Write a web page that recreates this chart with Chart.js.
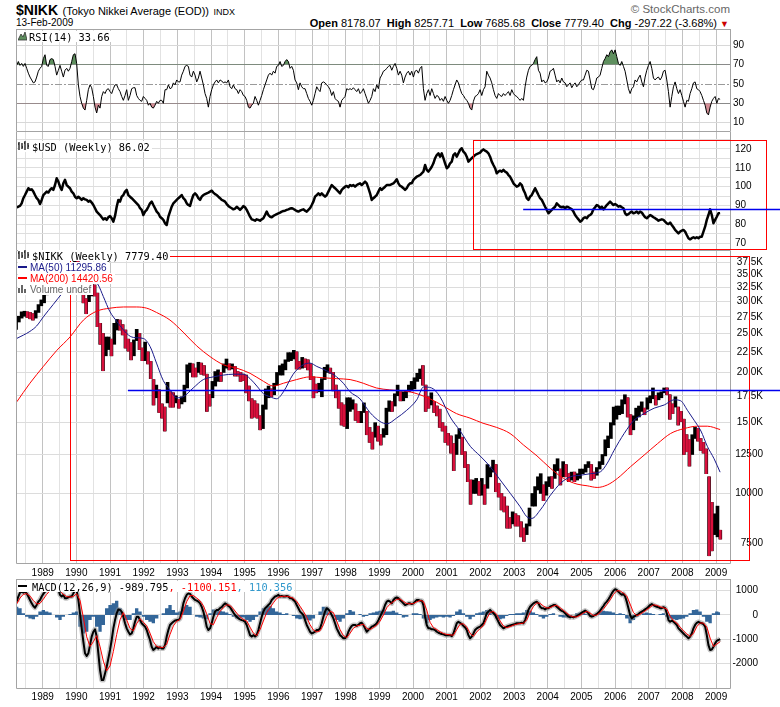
<!DOCTYPE html>
<html>
<head>
<meta charset="utf-8">
<script src="https://cdn.jsdelivr.net/npm/chart.js@4.4.1/dist/chart.umd.min.js"></script>
<style>
  body { margin: 0; width: 780px; height: 707px; position: relative; overflow: hidden; background: #fff;
         font-family: "Liberation Sans", Arial, sans-serif; color: #000; }
  canvas { position: absolute; left: 0; }
  .t { position: absolute; white-space: nowrap; }
  .lg { position: absolute; white-space: nowrap; background: #fff; line-height: 11px; height: 11px;
        font: 10.3px "DejaVu Sans Mono", monospace; padding-right: 2px; z-index: 5; }
  .lg.p { font: 10px "Liberation Sans", Arial, sans-serif; line-height: 11px; }
  .lg svg { vertical-align: top; margin-right: 2px; }
</style>
</head>
<body>

<div class="t" style="left:16px;top:2px;line-height:16px"><b style="font-size:14px">$NIKK</b> <span style="font-size:11px">(Tokyo Nikkei Average (EOD))</span> <span style="font-size:9px">INDX</span></div>
<div class="t" style="left:16px;top:17px;line-height:12px;font-size:10px">13-Feb-2009</div>
<div class="t" style="right:50px;top:3px;line-height:13px;font-size:11.5px;color:#666">&copy; StockCharts.com</div>
<div class="t" style="right:51px;top:17px;line-height:12px;font-size:11px"><b>Open</b> 8178.07&nbsp; <b>High</b> 8257.71&nbsp; <b>Low</b> 7685.68&nbsp; <b>Close</b> 7779.40&nbsp; <b>Chg</b> -297.22 (-3.68%) <span style="color:#cc0000;font-size:9px">&#9660;</span></div>

<canvas id="rsi" width="780" height="103" style="top:29px"></canvas>
<canvas id="usd" width="780" height="119" style="top:132px"></canvas>
<canvas id="nikk" width="780" height="328" style="top:251px"></canvas>
<canvas id="macd" width="780" height="128" style="top:579px"></canvas>

<div class="lg" style="left:18px;top:31px"><svg width="9" height="10"><polygon points="0,9 3,3 5,6 7,1 9,9" fill="#5e8f5e" stroke="#333" stroke-width="0.8"/></svg>RSI(14) 33.66</div>
<div class="lg" style="left:18px;top:141px"><svg width="12" height="10"><path d="M1,1V9M4,2V8M7,0V9M10,2V8M0,3H1M4,6H5M6,2H7M10,5H11" stroke="#000" stroke-width="1.2" fill="none"/></svg>$USD (Weekly) 86.02</div>
<div class="lg" style="left:18px;top:250px"><svg width="12" height="10"><path d="M1,1V9M4,2V8M7,0V9M10,2V8M0,3H1M4,6H5M6,2H7M10,5H11" stroke="#000" stroke-width="1.2" fill="none"/></svg>$NIKK (Weekly) 7779.40</div>
<div class="lg p" style="left:18px;top:262px;color:#1a1a8a"><svg width="10" height="10"><rect x="0" y="4" width="9" height="2" fill="#1a1a8a"/></svg>MA(50) 11295.86</div>
<div class="lg p" style="left:18px;top:273px;color:#ff0000"><svg width="10" height="10"><rect x="0" y="4" width="9" height="2" fill="#ff0000"/></svg>MA(200) 14420.56</div>
<div class="lg p" style="left:18px;top:284px;color:#666"><svg width="10" height="10"><path d="M1,9V4M4,9V1M7,9V5" stroke="#666" stroke-width="2" fill="none"/></svg>Volume undef</div>
<div class="lg" style="left:18px;top:581px"><svg width="12" height="10"><rect x="0" y="4" width="9" height="2" fill="#000"/></svg>MACD(12,26,9) -989.795<span style="color:#ff0000">, -1100.151</span><span style="color:#3399cc">, 110.356</span></div>

<script>
// ---------- axes ----------
const years = [1989, 1990, 1991, 1992, 1993, 1994, 1995, 1996, 1997, 1998, 1999,
               2000, 2001, 2002, 2003, 2004, 2005, 2006, 2007, 2008, 2009];
const rsiTicks = [10, 30, 50, 70, 90];
const usdTicks = [70, 75, 80, 85, 90, 95, 100, 105, 110, 115, 120, 125];
const nikkTicks = [7500, 10000, 12500, 15000, 17500, 20000, 22500, 25000, 27500, 30000, 32500, 35000, 37500];
const macdTicks = [-2000, -1000, 0, 1000];

// weekly series sampled evenly from mid-Mar 1988 to 13-Feb-2009
const seriesStart = 1988.227, seriesEnd = 2009.12;

// RSI(14)
const rsi = [
  69,73,69,71,68,71,66,61,57,54,51,52,57,63,66,68,
  76,80,69,68,75,76,75,68,59,64,69,63,57,64,66,63,66,73,80,81,
  71,49,37,30,25,23,33,44,49,46,37,26,20,28,25,37,42,40,44,45,
  42,40,45,49,49,45,42,37,33,38,44,33,38,45,46,46,38,35,33,32,
  37,35,33,28,30,26,25,28,32,30,33,33,30,44,44,49,45,46,51,49,
  54,52,52,59,63,68,69,68,59,57,63,59,52,56,63,56,49,40,35,26,37,
  44,49,52,54,51,54,53,51,52,51,54,47,45,49,45,44,40,44,42,38,
  37,33,26,25,28,30,37,33,28,33,38,44,49,54,59,61,59,63,61,68,
  69,73,68,69,73,75,73,66,68,64,54,51,44,51,47,45,45,40,35,32,
  28,33,40,47,44,42,51,52,51,49,47,44,38,42,35,33,32,26,33,35,
  37,45,44,45,44,46,44,42,45,40,42,45,40,35,30,33,37,45,42,49,
  45,56,59,63,64,66,68,
  69,64,68,71,66,59,63,59,51,57,61,63,59,63,57,63,64,61,66,68,
  45,33,40,44,38,45,40,35,38,37,33,35,32,37,33,
  30,33,38,44,49,54,51,45,40,38,35,33,30,25,23,32,37,38,40,44,
  38,44,47,63,59,56,51,44,38,35,40,38,37,40,38,40,42,38,44,40,
  38,37,35,33,35,33,47,57,64,68,69,71,75,78,64,61,52,54,51,52,
  56,63,64,66,59,52,54,51,56,52,51,47,49,51,46,49,51,47,49,52,
  54,54,59,64,63,54,45,44,49,56,57,59,66,73,76,80,78,83,85,81,
  85,78,71,69,73,68,63,54,45,40,45,47,54,52,56,59,52,47,57,64,
  69,73,66,56,54,56,57,54,57,63,64,54,42,26,37,47,52,45,40,44,
  38,32,26,33,32,40,45,51,52,45,44,42,38,33,28,20,18,26,32,35,
  37,30,35,34
];

// $USD weekly close
const usd = [
  89.1,89.4,89.8,91.2,93.9,95.6,97.4,99.2,98.3,98.6,97.4,95.6,93.9,93.0,90.8,93.0,95.6,96.5,97.4,96.9,
  98.3,99.2,98.3,100.9,104.5,102.7,100.0,98.3,101.8,103.6,100.9,100.0,99.2,97.4,96.5,94.7,93.9,94.7,93.9,93.0,
  93.9,93.3,93.0,92.1,92.6,91.6,90.3,88.6,86.8,85.9,85.0,83.8,82.7,83.3,82.4,83.8,84.5,83.3,81.5,84.5,
  89.4,93.0,92.1,94.7,95.6,97.4,98.3,95.6,94.7,93.9,93.0,92.1,91.2,90.3,88.6,87.7,85.0,86.8,87.7,89.4,
  91.2,92.1,90.3,88.6,86.8,85.9,84.1,83.3,82.4,80.6,79.7,84.1,86.8,89.4,91.2,92.1,93.0,93.9,94.7,95.6,
  93.9,93.0,91.2,90.3,89.8,93.0,95.6,96.5,95.6,93.9,93.0,94.7,95.6,96.1,96.5,96.9,97.4,97.9,96.9,96.1,
  95.6,94.7,93.9,93.0,92.6,92.1,90.8,89.8,89.1,88.6,88.0,88.4,89.4,88.6,87.7,88.6,89.8,89.1,87.7,85.9,
  84.1,82.7,82.4,82.0,82.7,82.4,82.0,82.7,83.3,85.0,86.8,85.0,84.1,83.8,84.5,85.0,85.5,85.9,86.3,86.8,
  87.1,87.3,87.7,88.0,88.4,88.6,88.2,87.7,87.1,86.8,87.3,87.7,88.0,87.3,86.8,87.7,88.6,90.3,92.1,94.7,
  95.6,96.5,95.6,96.5,95.6,94.7,95.6,97.4,99.2,100.9,100.0,99.2,98.3,97.4,96.5,98.3,99.2,100.0,100.4,99.7,
  100.9,100.4,100.9,100.0,100.9,101.4,101.8,100.9,101.8,102.7,101.8,99.2,96.5,93.0,93.9,94.7,95.6,97.4,99.2,98.3,
  99.2,100.0,100.9,100.9,
  100.9,101.4,101.8,102.7,103.9,101.8,100.4,100.0,99.2,98.3,99.2,100.9,101.8,101.8,103.6,104.5,105.3,105.7,106.2,107.1,
  108.0,111.5,108.9,108.0,109.2,110.6,112.4,115.1,116.8,117.7,115.9,117.7,115.1,112.4,109.8,110.6,112.4,113.3,116.8,117.7,
  115.9,117.7,119.5,120.4,118.6,117.7,115.9,113.3,114.2,115.1,115.9,116.8,117.3,117.7,118.1,119.1,119.8,119.1,118.6,117.7,
  115.9,113.3,111.5,109.8,107.1,108.0,108.5,108.0,108.9,108.0,107.5,106.2,105.3,103.6,101.8,100.9,100.0,100.4,101.8,100.9,
  98.3,96.5,93.9,93.0,94.7,95.6,97.4,99.2,97.4,95.6,93.9,93.0,91.2,89.4,87.7,85.9,86.8,87.7,88.6,89.4,
  91.2,90.3,89.4,89.1,89.4,88.6,89.4,89.1,88.6,88.0,86.8,85.0,83.8,82.7,81.5,82.0,83.3,83.8,83.3,84.5,
  85.0,85.9,88.0,89.1,90.3,89.8,88.6,89.4,88.0,89.1,90.3,91.2,92.1,91.2,90.3,90.8,90.3,89.4,89.8,89.1,
  88.6,85.9,85.0,85.5,86.3,86.8,85.9,86.3,86.8,85.9,86.8,86.3,85.0,83.8,83.3,84.1,85.0,84.5,83.8,83.3,
  82.7,82.0,82.4,82.7,82.4,81.5,80.6,80.2,81.0,79.7,78.5,77.1,76.2,75.3,76.2,76.7,77.1,76.2,74.4,72.7,
  72.1,72.7,73.2,72.7,73.2,72.7,73.5,73.5,76.2,78.8,82.4,85.0,88.0,85.0,80.6,82.4,84.1,85.9,86.0
];

// $NIKK monthly high / low, Mar 1988 .. Feb 2009
const nikkHigh = [
  27000,27600,28300,28400,28300,28200,28000,28500,29500,30300,
  31500,32500,32800,33800,34400,34000,34800,35100,35700,35900,37300,38900,
  38700,37500,34500,30500,33000,33200,33000,31500,26500,25000,24500,24500,
  24200,26500,27100,27000,26300,25500,24200,23700,24100,25600,25000,23000,
  23800,22500,21300,19200,18600,18100,16700,16400,18900,17900,17800,17500,
  17100,17400,18600,20900,21100,21000,20500,21200,21100,20800,19800,17600,
  19000,20100,20300,20000,21000,21600,21000,21000,20700,20100,20000,19800,
  19700,18500,17200,17000,16700,15600,16600,18200,18500,18200,18800,20000,
  20800,21000,21500,22400,22400,22700,22500,21300,21800,21600,21500,21000,
  19500,18700,18800,19300,20600,20900,20500,20000,18600,18000,16800,16600,
  17300,17300,17100,16700,16000,16000,16800,16000,14600,14200,15000,14700,
  14000,14500,16300,17000,16900,17700,18600,17900,17900,18000,18600,19000,
  19400,19900,20400,20800,18600,17400,17800,16900,16500,16200,15000,14700,
  14100,13900,13300,14000,14500,13800,12700,11800,10800,10800,10900,10700,
  10900,10500,11800,11600,12100,11800,10600,10000,9800,9300,8700,9000,
  8900,8800,8500,8200,8400,9200,10000,10400,11000,11200,10500,10700,
  11000,11000,11800,12200,11500,12000,11800,11200,11300,11300,11200,11500,
  11500,11800,12000,11800,11300,11600,12000,12500,13600,13900,15000,16400,
  16500,16500,17100,17600,17300,15700,15600,16300,16500,16900,16300,17300,
  17500,18300,17500,17800,17900,18300,18300,17600,16700,17400,16400,16000,
  15300,14000,13600,14000,14600,14500,13700,13400,12900,11000,9500,8900,
  9300,8100
];
const nikkLow = [
  25600,26700,27300,27600,27400,27200,27000,27300,28200,29300,
  29800,31200,31500,32800,33500,32800,33000,34300,34500,34800,35400,37000,
  36700,34000,29800,28000,30000,31000,31000,26000,23500,20200,22000,22800,
  22000,23500,25500,25500,24800,23000,22600,21500,22000,24000,22800,21400,
  21400,21000,19300,16600,17300,15900,15400,14300,16800,16400,16400,16800,
  16300,16700,16900,18300,20000,19500,19500,20000,19800,19700,16000,16500,
  17300,18500,19000,19000,20000,20500,20300,20400,19600,19600,19000,19100,
  17800,17000,15400,15500,15400,14400,14500,16200,17300,17400,17600,18600,
  19700,19700,20300,21300,21400,21600,20400,20400,20500,20600,20300,19200,
  17300,17800,17900,17400,19200,20000,19900,18000,17300,16300,14800,14700,
  14500,16000,16200,15200,15000,15000,15900,14000,13400,12900,13800,13500,
  13200,13800,14000,16000,16000,16500,17500,17000,17000,17300,17900,18000,
  18200,19000,19300,18600,16000,16300,16600,15900,15600,14600,14300,13400,
  13200,12600,11400,12500,13700,12500,11600,10700,9400,10000,10000,9900,
  9900,9400,10300,11000,11300,10100,9800,9100,9000,8200,8200,8400,
  8300,8300,7800,7600,7900,8300,9300,9300,10200,10000,9600,9900,
  10400,10300,10900,11400,10500,11000,11000,10700,10800,10700,10800,10900,
  11200,11300,11600,10800,10900,11100,11500,11800,12400,13000,13700,14800,
  15300,15700,15800,16700,15500,14000,14400,15200,15500,16000,15700,16200,
  16800,17200,16600,17100,17300,17800,17600,15300,15800,16400,14800,15100,
  12500,12700,11700,12500,13700,13500,12800,12600,11200,7000,7200,7900,
  7800,7700
];

// moving averages
const ma50Dates = [1988.23,1988.62,1988.82,1989.02,1989.31,1989.61,1989.85,1990.1,1990.35,1990.65,1990.8,1991.0,
  1991.2,1991.4,1991.6,1991.79,1991.99,1992.19,1992.38,1992.58,1992.78,1992.98,1993.17,1993.47,1993.77,1994.07,
  1994.37,1994.66,1994.96,1995.16,1995.36,1995.56,1995.75,1995.95,1996.15,1996.44,1996.74,1996.94,1997.14,1997.43,
  1997.73,1997.93,1998.13,1998.42,1998.72,1999.02,1999.22,1999.51,1999.81,2000.11,2000.31,2000.55,2000.8,2001.1,
  2001.4,2001.7,2001.99,2002.29,2002.59,2002.89,2003.18,2003.38,2003.53,2003.78,2004.08,2004.38,2004.67,2004.97,
  2005.27,2005.57,2005.77,2005.97,2006.27,2006.56,2006.86,2007.16,2007.46,2007.75,2007.95,2008.15,2008.35,2008.55,
  2008.74,2008.94,2009.12];
const ma50 = [24300,25300,26100,27500,29500,31700,33300,34600,34900,33000,30900,28300,
  26800,25500,24600,24400,24300,23200,21100,19100,18100,17300,17400,18300,19200,19500,
  19700,19800,19800,19300,18500,17700,17400,17200,17900,19800,20900,21100,20700,20200,
  19500,18800,17900,17200,15900,15100,14900,15400,16100,17100,18400,18300,17400,15500,
  14300,13100,12400,11660,10800,10000,9270,8750,8670,9100,9900,10600,11000,11100,
  11200,11330,11900,12800,14100,15200,15800,16300,16600,17100,17000,16100,15200,14300,
  13100,12200,11296];
const ma200Dates = [1988.23,1988.62,1989.02,1989.42,1989.81,1990.21,1990.6,1991.0,1991.4,1991.79,1992.09,1992.38,
  1992.78,1993.17,1993.57,1993.97,1994.37,1994.76,1995.16,1995.56,1995.85,1996.15,1996.54,1996.94,1997.33,1997.73,
  1998.13,1998.52,1998.91,1999.31,1999.91,2000.5,2000.9,2001.29,2001.69,2002.08,2002.48,2002.88,2003.28,2003.68,
  2004.08,2004.47,2004.87,2005.17,2005.47,2005.77,2006.07,2006.46,2006.86,2007.26,2007.65,2008.05,2008.45,2008.74,
  2009.12];
const ma200 = [16900,18800,20700,22700,24500,27000,28400,28900,29100,29100,28900,28200,
  27000,25200,23300,21900,20900,20500,19900,19000,18500,18800,19200,19500,19400,19300,
  19200,18800,18300,18100,17900,17200,16500,15800,15400,14950,14600,14100,13200,12400,
  11550,10900,10550,10450,10350,10500,10900,11660,12450,13300,14100,14500,14700,14700,
  14421];

// MACD(12,26,9)
const macd = [
  550,760,920,960,920,960,890,760,620,480,370,300,410,550,620,760,870,960,1030,1100,
  1140,1170,1200,1240,1170,1060,830,760,830,690,690,730,760,760,890,1030,1000,620,70,-550,
  -1100,-1580,-1690,-1580,-1240,-890,-690,-590,-890,-1580,-2270,-2680,-2680,-2410,-2130,-1790,-1440,-1030,-550,-210,
  70,230,210,140,-70,-340,-550,-690,-800,-760,-550,-280,-70,-70,-210,-340,-410,-480,-620,-830,
  -1030,-1310,-1440,-1380,-1310,-1380,-1330,-1380,-1380,-1240,-890,-620,-410,-340,-280,-230,-210,-210,-140,140,
  480,690,830,890,870,760,690,620,590,550,480,340,140,-140,-480,-620,-550,-340,-70,140,
  210,210,280,320,410,480,440,370,320,210,100,0,-70,-140,-180,-210,-230,-280,-410,-620,
  -830,-890,-830,-890,-830,-620,-340,-70,140,280,340,410,480,620,690,760,780,830,760,780,
  760,760,780,760,690,690,620,550,410,280,140,70,0,-210,-410,-550,-690,-760,-730,-690,
  -620,-620,-550,-340,-70,140,280,230,140,0,-140,-340,-550,-690,-830,-890,-960,-960,-890,-690,
  -550,-450,-410,-410,-450,-410,-340,-320,-410,-550,-690,-620,-550,-480,-450,-410,-340,-210,-70,70,
  210,410,550,590,
  550,480,620,690,720,690,620,550,480,410,440,480,480,450,480,550,620,620,590,590,
  410,-70,-410,-550,-550,-590,-590,-620,-690,-730,-760,-780,-800,-830,-830,-830,-830,-870,-760,-550,
  -340,-280,-320,-370,-450,-510,-620,-830,-960,-890,-760,-620,-550,-510,-480,-410,-340,-140,70,140,
  210,140,70,0,-140,-280,-410,-480,-550,-510,-480,-450,-430,-410,-390,-370,-340,-340,-340,-320,
  -340,-210,0,210,340,410,480,520,550,480,340,280,280,230,280,280,340,370,410,410,
  340,280,210,170,140,70,0,-70,-100,-70,-100,-70,-40,0,40,100,140,180,140,70,
  -40,-70,-40,0,40,100,180,280,370,480,550,650,760,890,1000,1060,1030,960,890,830,
  870,760,550,280,0,-140,-70,-40,0,40,100,140,180,230,280,340,410,450,410,370,
  340,320,280,280,320,280,70,-210,-280,-230,-280,-340,-410,-550,-620,-690,-760,-830,-890,-960,
  -890,-760,-550,-410,-320,-280,-320,-340,-370,-480,-830,-1240,-1440,-1420,-1310,-1170,-1060,-1030,-990
];
const macdSignal = [
  450,700,850,880,780,600,450,480,650,850,
  1000,1100,1150,1000,850,760,740,760,880,600,
  -100,-900,-1300,-1100,-850,-1300,-1900,-2300,-2100,-1500,
  -800,-200,100,-200,-550,-650,-350,-150,-300,-450,
  -750,-1100,-1300,-1330,-1340,-1200,-800,-450,-260,-180,
  150,550,800,800,700,580,380,50,-350,-400,
  -100,150,300,420,400,250,80,-80,-180,-250,
  -500,-750,-850,-600,-250,100,300,500,680,760,
  770,770,740,690,560,360,150,-100,-400,-620,
  -700,-650,-400,-50,150,100,-250,-600,-850,-930,
  -750,-550,-450,-420,-380,-550,-600,-520,-420,-250,
  0,300,
  450,550,640,660,560,470,460,470,540,600,
  560,200,-300,-520,-600,-690,-760,-800,-820,-830,
  -600,-380,-360,-500,-750,-880,-700,-560,-440,-150,
  100,150,20,-250,-450,-520,-480,-420,-380,-350,
  -340,-200,100,350,500,480,370,290,300,370,
  400,300,190,80,-30,-80,-80,-10,80,150,
  80,-20,0,100,250,430,620,850,1000,990,
  900,780,450,100,-30,30,120,220,320,420,
  400,340,300,250,-50,-230,-330,-500,-650,-780,
  -880,-760,-480,-330,-330,-500,-950,-1300,-1200,-1100
];
const macdHist = [
  340,280,70,-70,-140,-180,-70,140,210,140,
  100,0,-100,-210,-70,0,40,100,140,-480,
  -760,-690,-210,-70,-480,-690,-410,280,410,480,
  590,280,-70,-210,-210,70,280,140,-70,-210,
  -280,-340,-140,0,70,280,410,210,100,140,
  340,410,340,0,-70,-100,-140,-180,70,230,
  210,180,140,100,40,-70,-140,-110,-100,-210,
  -280,-210,-70,140,280,340,370,280,140,100,
  40,70,0,-40,-140,-180,-140,-210,-230,-140,
  0,140,340,320,70,-70,-210,-280,-140,70,
  210,140,0,40,-70,-40,70,100,140,180,
  230,140,
  140,180,100,40,-100,-70,0,70,70,40,
  -140,-340,-210,-140,-100,-70,-100,-70,-100,-40,
  140,230,70,-70,-180,-70,70,100,140,210,
  140,0,-140,-180,-140,-40,40,40,70,70,
  100,210,180,100,40,-70,-140,-70,40,70,
  0,-70,-100,-100,-70,0,70,100,120,40,
  -40,0,70,140,180,150,140,100,40,70,
  40,-140,-340,-210,-70,0,70,100,70,40,
  0,40,70,-70,-140,-180,-210,-180,-140,-70,
  70,210,230,140,-70,-280,-340,70,140,110
];

// ---------- helpers ----------
const FONT = '"Liberation Sans", Arial, sans-serif';
const X_MIN = 1988.207, X_MAX = 2009.443;

function spread(vals) {
  const step = (seriesEnd - seriesStart) / (vals.length - 1);
  return vals.map((v, i) => ({ x: seriesStart + i * step, y: v }));
}
function pairs(xs, ys) { return xs.map((x, i) => ({ x: x, y: ys[i] })); }

const gridTicks = [];
years.forEach(y => { gridTicks.push(y - 0.5); gridTicks.push(y); });

function xAxis(labels, h, pad) {
  return {
    type: 'linear', min: X_MIN, max: X_MAX, offset: false,
    afterBuildTicks: s => { s.ticks = gridTicks.map(v => ({ value: v })); },
    afterFit: s => { s.height = h; s.paddingLeft = 0; s.paddingRight = 0; },
    grid: { color: c => (c.tick && Number.isInteger(c.tick.value)) ? '#c2c2c2' : '#e2e2e2', drawTicks: false, offset: false },
    border: { display: false },
    ticks: { display: labels, autoSkip: false, maxRotation: 0, padding: pad || 0, color: '#000',
             font: { family: FONT, size: 10 }, callback: v => Number.isInteger(v) ? String(v) : '' }
  };
}
// axis box starts at the plot's right edge (x = 731); width sets where right-aligned labels end
function yAxis(o) {
  return Object.assign({
    position: 'right',
    afterBuildTicks: s => { s.ticks = o.tickVals.map(v => ({ value: v })); },
    afterFit: s => { s.width = o.width || 49; s.paddingTop = 0; s.paddingBottom = 0; },
    border: { display: false },
    grid: { color: o.gridColor || '#dcdcdc', drawTicks: false },
    ticks: { color: '#000', padding: o.pad, crossAlign: o.align || 'near', autoSkip: false,
             font: { family: FONT, size: 10 }, callback: o.label }
  }, o.extra);
}

const frame = {
  id: 'frame',
  afterDatasetsDraw(chart, args, o) {
    const { ctx, chartArea: a } = chart;
    const l = a.left + 0.5, r = Math.round(a.right) - 0.5, t = a.top + 0.5, b = Math.round(a.bottom) - 0.5;
    ctx.save();
    ctx.strokeStyle = '#a4a4a4'; ctx.lineWidth = 1;
    ctx.beginPath();
    if (o.top) { ctx.moveTo(l, t); ctx.lineTo(r, t); }
    ctx.moveTo(l, a.top); ctx.lineTo(l, b); ctx.lineTo(r, b); ctx.lineTo(r, a.top);
    ctx.stroke();
    ctx.restore();
  }
};
function drawLines(chart, list) {
  const { ctx, scales: { x, y } } = chart;
  list.forEach(l => {
    const py = Math.round(y.getPixelForValue(l.y)) + 0.5;
    ctx.save();
    ctx.strokeStyle = l.color; ctx.lineWidth = l.width || 1; ctx.setLineDash(l.dash || []);
    ctx.beginPath();
    ctx.moveTo(x.getPixelForValue(l.x0), py); ctx.lineTo(x.getPixelForValue(l.x1), py);
    ctx.stroke();
    ctx.restore();
  });
}
const marks = {
  id: 'marks',
  beforeDatasetsDraw(chart, args, o) { drawLines(chart, o.under || []); },
  afterDraw(chart, args, o) {
    const { ctx, scales: { x, y } } = chart;
    (o.rects || []).forEach(r => {
      const x0 = Math.round(x.getPixelForValue(r.x0)) + 0.5, x1 = Math.round(x.getPixelForValue(r.x1)) + 0.5;
      const y0 = Math.round(y.getPixelForValue(r.y0)) + 0.5, y1 = Math.round(y.getPixelForValue(r.y1)) + 0.5;
      ctx.save(); ctx.strokeStyle = r.color; ctx.lineWidth = 1;
      ctx.strokeRect(x0, y0, x1 - x0, y1 - y0); ctx.restore();
    });
    drawLines(chart, o.lines || []);
  }
};
Chart.register(frame, marks);

function baseOptions(xs, ys, plugins, padRight) {
  return {
    responsive: false, animation: false, events: [],
    layout: { padding: { left: 16, right: padRight || 0, top: 0, bottom: 0 } },
    elements: { point: { radius: 0 }, line: { borderJoinStyle: 'round' } },
    plugins: Object.assign({ legend: { display: false }, tooltip: { enabled: false } }, plugins),
    scales: { x: xs, y: ys }
  };
}

// ---------- RSI ----------
const rsiPts = spread(rsi);
new Chart(document.getElementById('rsi'), {
  type: 'line',
  data: { datasets: [
    { data: rsiPts, borderColor: '#000', borderWidth: 1, fill: { target: { value: 70 }, above: '#5e8f5e', below: 'rgba(0,0,0,0)' } },
    { data: rsiPts, borderColor: 'rgba(0,0,0,0)', borderWidth: 0, fill: { target: { value: 30 }, above: 'rgba(0,0,0,0)', below: '#d48e96' } }
  ]},
  options: baseOptions(xAxis(false, 0),
    yAxis({ tickVals: rsiTicks, pad: 2, label: v => String(v),
            gridColor: c => { const v = c.tick && c.tick.value; return (v === 30 || v === 70) ? '#8a8a8a' : (v === 50 ? 'rgba(0,0,0,0)' : '#d8d8d8'); },
            extra: { min: 0.4, max: 106.5 } }),
    { frame: { top: true }, marks: { under: [{ y: 50, x0: X_MIN, x1: X_MAX, color: '#9a9a9a', dash: [7, 2, 2, 2] }] } })
});

// ---------- $USD ----------
new Chart(document.getElementById('usd'), {
  type: 'line',
  data: { datasets: [{ data: spread(usd), borderColor: '#000', borderWidth: 2.5 }] },
  options: baseOptions(xAxis(false, 0),
    yAxis({ tickVals: usdTicks, pad: 4, label: v => (v % 10 === 0 ? String(v) : ''), gridColor: '#dedede',
            extra: { min: 65.92, max: 129.0 } }),
    { frame: { top: false }, marks: {
      rects: [{ x0: 2001.78, x1: 2010.47, y0: 124.8, y1: 67.1, color: '#ff0000' }],
      lines: [{ y: 88.0, x0: 2003.27, x1: 2011, color: '#0000ee', width: 1.3 }] } })
});

// ---------- $NIKK ----------
const nikkBars = nikkHigh.map((h, i) => ({ x: 1988 + (2 + i + 0.5) / 12, y: [nikkLow[i], h] }));
const nikkDown = nikkHigh.map((h, i) =>
  (i > 0 && (h + nikkLow[i]) < (nikkHigh[i - 1] + nikkLow[i - 1])) ? nikkBars[i] : null).filter(p => p);
new Chart(document.getElementById('nikk'), {
  type: 'bar',
  data: { datasets: [
    { type: 'line', data: pairs(ma50Dates, ma50), borderColor: '#1a1a8a', borderWidth: 1, tension: 0.4, cubicInterpolationMode: 'monotone', order: 1 },
    { type: 'line', data: pairs(ma200Dates, ma200), borderColor: '#ff0000', borderWidth: 1, tension: 0.4, cubicInterpolationMode: 'monotone', order: 2 },
    { type: 'bar', data: nikkDown, backgroundColor: '#d8103c', barThickness: 2, grouped: false, borderWidth: 0, borderSkipped: false, order: 3 },
    { type: 'bar', data: nikkBars, backgroundColor: '#000', barThickness: 3, grouped: false, borderWidth: 0, borderSkipped: false, order: 4 }
  ]},
  options: baseOptions(xAxis(true, 15, 3),
    yAxis({ tickVals: nikkTicks, pad: 4, align: 'far', width: 32,
            label: v => v >= 15000 ? (v / 1000).toFixed(1) + 'K' : String(v),
            extra: { type: 'logarithmic', min: 6676, max: 40100 } }),
    { frame: { top: false }, marks: {
      rects: [{ x0: 1989.82, x1: 2009.99, y0: 38970, y1: 6818, color: '#ff0000' }],
      lines: [{ y: 18060, x0: 1991.53, x1: 2011, color: '#0000ee', width: 1.3 }] } }, 17)
});

// ---------- MACD ----------
const macdPts = spread(macd);
new Chart(document.getElementById('macd'), {
  type: 'line',
  data: { datasets: [
    { data: spread(macdSignal), borderColor: '#ff0000', borderWidth: 1, order: 0 },
    { data: macdPts, borderColor: '#000', borderWidth: 2, order: 1 },
    { data: macdPts, borderColor: 'rgba(140,140,140,0.5)', borderWidth: 5, order: 2 },
    { data: spread(macdHist), borderWidth: 0, borderColor: 'rgba(0,0,0,0)', stepped: 'middle', fill: 'origin', backgroundColor: '#336699', order: 3 }
  ]},
  options: baseOptions(xAxis(true, 18, 2),
    yAxis({ tickVals: macdTicks, pad: 2, align: 'far', width: 27, label: v => String(v),
            extra: { min: -3049, max: 1483 } }),
    { frame: { top: true } }, 22)
});
</script>
</body>
</html>
